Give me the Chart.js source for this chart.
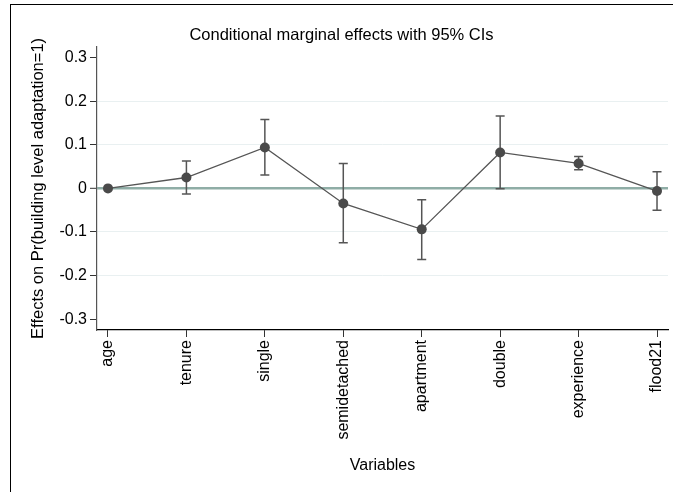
<!DOCTYPE html>
<html>
<head>
<meta charset="utf-8">
<script src="https://cdn.jsdelivr.net/npm/chart.js@4/dist/chart.umd.min.js"></script>
<style>
  body { margin: 0; background: #fff; }
  #wrap { position: relative; width: 673px; height: 492px; overflow: hidden; }
  #frame { position: absolute; left: 10px; top: 4px; width: 700px; height: 520px;
           border-left: 1.5px solid #000; border-top: 1.5px solid #000; }
  canvas { position: absolute; left: 0; top: 0; }
</style>
</head>
<body>
<div id="wrap">
  <div id="frame"></div>
  <canvas id="chart" width="673" height="492"></canvas>
</div>
<script>
const variables = ["age", "tenure", "single", "semidetached", "apartment", "double", "experience", "flood21"];
const effects = [0, 0.025, 0.094, -0.0345, -0.094, 0.0825, 0.0573, -0.006];
const ciLow = [0, -0.013, 0.0305, -0.125, -0.163, -0.001, 0.043, -0.050];
const ciHigh = [0, 0.063, 0.158, 0.0573, -0.026, 0.166, 0.073, 0.038];
const yTicks = [-0.3, -0.2, -0.1, 0, 0.1, 0.2, 0.3];

const FONT = "'Liberation Sans', Arial, sans-serif";

// CI whiskers, drawn under the points
const errorBars = {
  id: "errorBars",
  beforeDatasetsDraw(chart) {
    const ctx = chart.ctx;
    const x = chart.scales.x, y = chart.scales.y;
    ctx.save();
    ctx.strokeStyle = "#555";
    ctx.lineWidth = 1.5;
    for (let i = 0; i < variables.length; i++) {
      if (ciLow[i] === ciHigh[i]) continue;
      const px = x.getPixelForValue(i);
      const y1 = y.getPixelForValue(ciLow[i]);
      const y2 = y.getPixelForValue(ciHigh[i]);
      ctx.beginPath();
      ctx.moveTo(px, y1); ctx.lineTo(px, y2);
      ctx.moveTo(px - 4.5, y1); ctx.lineTo(px + 4.5, y1);
      ctx.moveTo(px - 4.5, y2); ctx.lineTo(px + 4.5, y2);
      ctx.stroke();
    }
    ctx.restore();
  }
};

new Chart(document.getElementById("chart"), {
  type: "line",
  data: {
    datasets: [{
      data: effects.map((v, i) => ({ x: i, y: v })),
      borderColor: "#555",
      borderWidth: 1.3,
      pointRadius: 5,
      pointBackgroundColor: "#4a4a4a",
      pointBorderWidth: 0,
      tension: 0
    }]
  },
  options: {
    responsive: false,
    animation: false,
    layout: { padding: { left: 10, right: 0, top: 0, bottom: 0 } },
    plugins: {
      legend: { display: false },
      tooltip: { enabled: false },
      title: {
        display: true,
        text: "Conditional marginal effects with 95% CIs",
        color: "#000",
        font: { family: FONT, size: 16.5, weight: "normal" },
        padding: { top: 26, bottom: 1 }
      }
    },
    scales: {
      x: {
        type: "linear",
        min: -0.14,
        max: 7.14,
        afterBuildTicks: (s) => { s.ticks = variables.map((_, i) => ({ value: i })); },
        afterFit: (s) => { s.height = 162; s.paddingRight = 0; },
        ticks: {
          autoSkip: false,
          minRotation: 90,
          maxRotation: 90,
          padding: 3,
          color: "#000",
          font: { family: FONT, size: 16 },
          callback: (v) => variables[v]
        },
        grid: { drawOnChartArea: false, drawTicks: true, tickLength: 7, tickColor: "#333", tickWidth: 1 },
        border: { display: true, color: "#000", width: 1.2 },
        title: {
          display: true,
          text: "Variables",
          color: "#000",
          font: { family: FONT, size: 16 },
          padding: { top: 17, bottom: 17 }
        }
      },
      y: {
        min: -0.325,
        max: 0.325,
        afterBuildTicks: (s) => { s.ticks = yTicks.map((v) => ({ value: v })); },
        afterFit: (s) => { s.width = 87; },
        ticks: {
          color: "#000",
          padding: 3,
          font: { family: FONT, size: 16 },
          callback: (v) => (Math.abs(v) < 1e-9 ? "0" : v.toFixed(1))
        },
        grid: {
          drawTicks: true,
          tickLength: 7,
          tickColor: "#333",
          tickWidth: 1,
          color: (c) => {
            const v = c.tick ? c.tick.value : null;
            if (v === null) return "transparent";
            if (Math.abs(v) < 1e-9) return "#8fada6";
            if (Math.abs(Math.abs(v) - 0.3) < 1e-9) return "transparent";
            return "#e9f0f1";
          },
          lineWidth: (c) => (c.tick && Math.abs(c.tick.value) < 1e-9 ? 2.6 : 1)
        },
        border: { display: true, color: "#555", width: 1.2 },
        title: {
          display: true,
          text: "Effects on Pr(building level adaptation=1)",
          color: "#000",
          font: { family: FONT, size: 16.5 },
          padding: { top: 19, bottom: 0 }
        }
      }
    }
  },
  plugins: [errorBars]
});
</script>
</body>
</html>
